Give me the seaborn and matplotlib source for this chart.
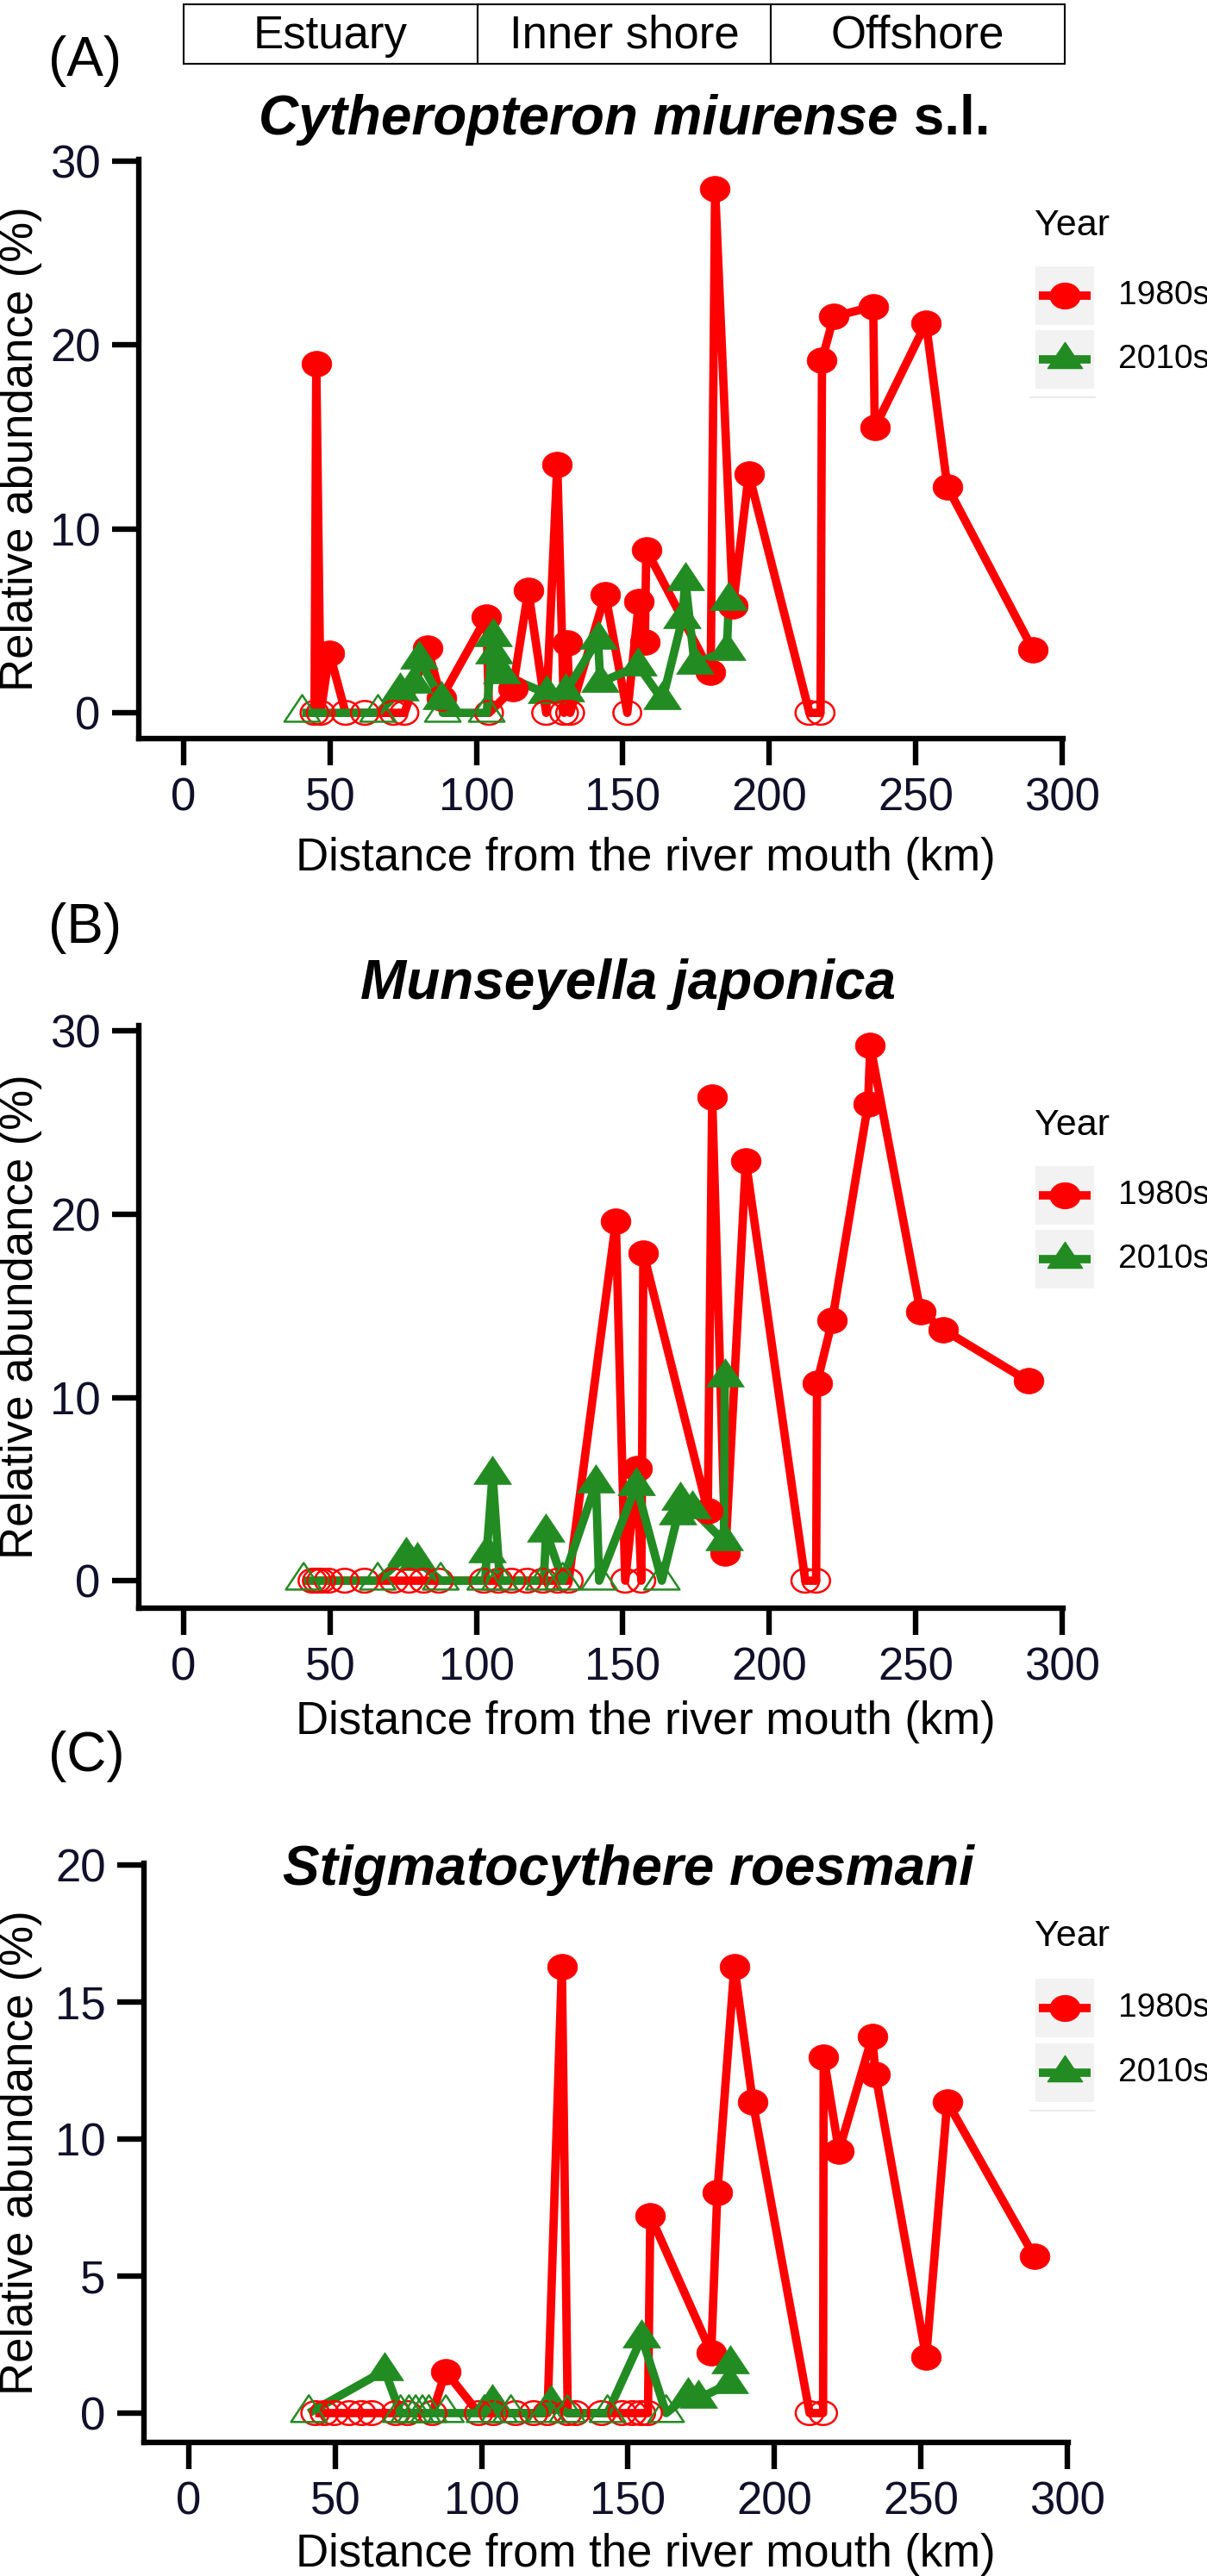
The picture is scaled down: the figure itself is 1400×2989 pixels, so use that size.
import numpy as np
import pandas as pd
import matplotlib
matplotlib.use("Agg")
import matplotlib.pyplot as plt
import seaborn as sns
from matplotlib.patches import Rectangle
from matplotlib.lines import Line2D
from matplotlib.path import Path

# ---------------- data ----------------
xticks_km = [0, 50, 100, 150, 200, 250, 300]
zones = ["Estuary", "Inner shore", "Offshore"]
zone_edges_km = [0, 100, 200, 300]
species = ["Cytheropteron miurense", "Munseyella japonica", "Stigmatocythere roesmani"]
panel_tags = ["(A)", "(B)", "(C)"]
years = ["1980s", "2010s"]

# Panel A: Cytheropteron miurense s.l.
A80_x = [44.7, 45.3, 46.8, 49.8, 55.3, 61.9, 71.7, 75.4, 83.3, 88.0, 103.4, 104.3, 112.4, 117.7,
         123.8, 127.6, 129.9, 131.0, 132.0, 144.0, 151.5, 155.5, 157.5, 158.0, 180.0, 181.5,
         187.6, 193.0, 213.7, 217.5, 218.0, 222.0, 235.5, 236.0, 253.5, 260.8, 290.0]
A80_y = [0, 19.0, 0, 3.26, 0, 0, 0, 0, 3.5, 0.8, 5.2, 0, 1.3, 6.65,
         0, 13.5, 0, 3.8, 0, 6.45, 0, 6.05, 3.83, 8.87, 2.2, 28.5,
         5.8, 13.0, 0, 0, 19.2, 21.55, 22.1, 15.5, 21.2, 12.3, 3.45]
A10_x = [40.5, 66.4, 74.0, 78.5, 80.5, 88.0, 88.5, 103.5, 105.6, 106.0, 108.5, 124.0, 130.5,
         141.5, 142.3, 155.3, 163.5, 170.3, 171.3, 174.5, 185.5, 186.2]
A10_y = [0, 0, 1.2, 1.6, 2.9, 0.7, 0, 0, 4.15, 3.2, 2.1, 1.05, 1.15,
         4.0, 1.65, 2.55, 0.7, 5.1, 7.2, 2.65, 3.4, 6.1]

# Panel B: Munseyella japonica
B80_x = [44.0, 45.5, 47.0, 49.5, 55.0, 61.8, 71.8, 77.0, 82.0, 87.2, 102.5, 107.5, 112.0, 117.3,
         122.7, 127.8, 131.5, 147.6, 150.8, 154.8, 156.3, 157.0, 179.0, 180.5, 185.0, 192.0,
         212.3, 216.0, 216.3, 221.5, 233.7, 234.5, 251.6, 259.5, 288.4]
B80_y = [0, 0, 0, 0, 0, 0, 0, 0, 0, 0, 0, 0, 0, 0,
         0, 0, 0, 19.6, 0, 6.1, 0, 17.9, 3.8, 26.4, 1.5, 22.9,
         0, 0, 10.8, 14.2, 26.0, 29.2, 14.7, 13.7, 10.9]
B10_x = [41.0, 66.3, 76.0, 79.9, 87.8, 103.0, 103.5, 105.5, 108.0, 123.0, 123.8, 129.5, 140.8,
         141.9, 154.6, 163.3, 168.8, 169.5, 173.7, 184.5, 184.8]
B10_y = [0, 0, 1.35, 1.1, 0, 0, 1.5, 5.8, 0, 0, 2.65, 0, 5.3,
         0, 5.2, 0, 3.6, 4.4, 3.9, 2.15, 11.1]

# Panel C: Stigmatocythere roesmani
C80_x = [43.2, 46.3, 49.7, 54.8, 59.0, 62.5, 70.7, 74.7, 83.2, 87.7, 99.0, 104.0, 111.6, 117.8,
         122.5, 127.4, 129.4, 132.1, 141.0, 148.0, 151.5, 154.5, 156.8, 157.6, 178.4, 180.5,
         186.3, 192.6, 212.0, 216.6, 216.8, 222.0, 233.4, 234.5, 251.8, 259.0, 288.7]
C80_y = [0, 0, 0, 0, 0, 0, 0, 0, 0, 1.52, 0, 0, 0, 0,
         0, 16.3, 0, 0, 0, 0, 0, 0, 0, 7.2, 2.2, 8.05,
         16.3, 11.35, 0, 0, 13.0, 9.56, 13.75, 12.35, 2.03, 11.35, 5.72]
C10_x = [41.0, 66.9, 72.3, 75.2, 77.5, 79.8, 82.0, 87.8, 101.0, 103.5, 106.0, 110.0, 122.0,
         123.8, 129.3, 143.0, 154.7, 163.0, 170.5, 173.9, 184.6, 184.9]
C10_y = [0, 1.55, 0, 0, 0, 0, 0, 0, 0, 0.38, 0, 0, 0,
         0.36, 0, 0, 2.75, 0, 0.63, 0.52, 1.08, 1.8]

# ---------------- style ----------------
sns.set_theme(style="white")
plt.rcParams['font.family'] = ['Liberation Sans', 'DejaVu Sans']

W, H = 1400, 2989
RED = '#FF0000'
GREEN = '#228B22'
TICKCOL = '#10102a'

# slightly wide ellipse (35 x 30 px) and wide triangle (44 x 33 px), as in the source
_t = np.linspace(0, 2 * np.pi, 61)
ELL = Path(np.column_stack([np.cos(_t), 0.857 * np.sin(_t)]), closed=True)
TRI = Path([(0, 22), (-22, -11), (22, -11), (0, 22)],
           [Path.MOVETO, Path.LINETO, Path.LINETO, Path.CLOSEPOLY])
CIRC_MS = 25.0     # points (width)
TRI_MS = 31.5      # points (width)
LW = 7.0


def fx(px):
    return px / W


def fy(py):
    return 1 - py / H


fig = plt.figure(figsize=(W / 100, H / 100), dpi=100)
fig.patch.set_facecolor('white')

panels = [
    dict(l=161, r=1233, t=185, b=857, ylim=(-1.4, 30.1), yticks=[0, 10, 20, 30],
         d80=(A80_x, A80_y), d10=(A10_x, A10_y)),
    dict(l=161, r=1233, t=1190, b=1866, ylim=(-1.5, 30.3), yticks=[0, 10, 20, 30],
         d80=(B80_x, B80_y), d10=(B10_x, B10_y)),
    dict(l=167, r=1239, t=2162, b=2834, ylim=(-1.07, 20.06), yticks=[0, 5, 10, 15, 20],
         d80=(C80_x, C80_y), d10=(C10_x, C10_y)),
]

axes = []
for p in panels:
    ax = fig.add_axes([fx(p['l']), fy(p['b']), (p['r'] - p['l']) / W, (p['b'] - p['t']) / H])
    ax.patch.set_alpha(0)
    axes.append(ax)

    series = [(p['d80'], RED, ELL, CIRC_MS), (p['d10'], GREEN, TRI, TRI_MS)]
    for (xs, ys), col, mk, ms in series:
        df = pd.DataFrame({'km': xs, 'ab': ys})
        sns.lineplot(data=df, x='km', y='ab', ax=ax, color=col, linewidth=LW,
                     estimator=None, sort=False, solid_joinstyle='round',
                     solid_capstyle='butt', zorder=2)
    for (xs, ys), col, mk, ms in series:
        df = pd.DataFrame({'km': xs, 'ab': ys})
        pos = df[df['ab'] > 0]
        sns.scatterplot(data=pos, x='km', y='ab', ax=ax, marker=mk, s=ms ** 2,
                        color=col, edgecolor=col, linewidth=0.5, zorder=3, clip_on=False)
    for (xs, ys), col, mk, ms in series:
        df = pd.DataFrame({'km': xs, 'ab': ys})
        zero = df[df['ab'] == 0]
        sns.scatterplot(data=zero, x='km', y='ab', ax=ax, marker=mk, s=(ms - 1.8) ** 2,
                        color=col, facecolor='none', edgecolor=col, linewidth=1.8,
                        zorder=4, clip_on=False)

    ax.set_xlim(-15.3, 300.3)
    ax.set_ylim(*p['ylim'])
    ax.set_xticks(xticks_km)
    ax.set_yticks(p['yticks'])
    ax.set_xticklabels([str(v) for v in xticks_km])
    ax.set_yticklabels([str(v) for v in p['yticks']])
    ax.set_xlabel('')
    ax.set_ylabel('')
    for s in ['top', 'right']:
        ax.spines[s].set_visible(False)
    for s in ['left', 'bottom']:
        ax.spines[s].set_visible(True)
        ax.spines[s].set_linewidth(4.6)
        ax.spines[s].set_color('black')
        ax.spines[s].set_capstyle('projecting')
    ax.tick_params(axis='both', which='major', direction='out', length=22, width=4.6,
                   color='black', labelsize=38, labelcolor=TICKCOL, pad=10,
                   bottom=True, left=True)
    ax.grid(False)

# ---------------- texts ----------------
TITLE_KW = dict(fontsize=46, fontweight='bold', fontstyle='italic', color='black')

tA = fig.text(fx(300), fy(156), species[0], ha='left', va='baseline', **TITLE_KW)
plt.annotate(" s.l.", xy=(1, 0), xycoords=tA, ha='left', va='bottom',
             fontsize=46, fontweight='bold', color='black', annotation_clip=False)
fig.text(fx(729), fy(1159), species[1], ha='center', va='baseline', **TITLE_KW)
fig.text(fx(729), fy(2187), species[2], ha='center', va='baseline', **TITLE_KW)

for tag, yc in zip(panel_tags, [71, 1077, 2038]):
    fig.text(fx(56), fy(yc), tag, fontsize=46, ha='left', va='center', color='black')

for yb in [1010, 2012, 2978]:
    fig.text(fx(749), fy(yb), "Distance from the river mouth (km)", fontsize=38,
             ha='center', va='baseline', color='black')

for p in panels:
    fig.text(fx(24), fy((p['t'] + p['b']) / 2), "Relative abundance (%)", fontsize=38,
             rotation=90, ha='center', va='center', color='black')

for i, name in enumerate(zones):
    x0 = 213 + zone_edges_km[i] * (1235 - 213) / 300
    x1 = 213 + zone_edges_km[i + 1] * (1235 - 213) / 300
    fig.add_artist(Rectangle((fx(x0), fy(74)), (x1 - x0) / W, (74 - 5) / H,
                             transform=fig.transFigure, facecolor='white',
                             edgecolor='black', linewidth=1.5))
    fig.text(fx((x0 + x1) / 2), fy(56), name, fontsize=38, ha='center',
             va='baseline', color='black')


# ---------------- legends ----------------
def draw_legend(title_y, key1_top, key2_top, faint_y=None):
    fig.text(fx(1200), fy(title_y), "Year", fontsize=31, ha='left', va='center',
             color='black')
    for top, col, mk, ms, lab in [(key1_top, RED, ELL, CIRC_MS, years[0]),
                                  (key2_top, GREEN, TRI, TRI_MS * 0.92, years[1])]:
        fig.add_artist(Rectangle((fx(1201), fy(top + 68)), 68 / W, 68 / H,
                                 transform=fig.transFigure, facecolor='#F2F2F2',
                                 edgecolor='none'))
        cy = top + 34
        fig.add_artist(Line2D([fx(1205), fx(1265)], [fy(cy), fy(cy)],
                              transform=fig.transFigure, color=col, lw=LW,
                              solid_capstyle='butt'))
        fig.add_artist(Line2D([fx(1235)], [fy(cy)], transform=fig.transFigure,
                              marker=mk, markersize=ms, color=col,
                              markeredgecolor=col, linestyle='none'))
        fig.text(fx(1297), fy(cy), lab, fontsize=28, ha='left', va='center',
                 color='black')
    if faint_y is not None:
        fig.add_artist(Line2D([fx(1195), fx(1270)], [fy(faint_y), fy(faint_y)],
                              transform=fig.transFigure, color='#EBEBEB', lw=1.5))


draw_legend(262, 309, 383, faint_y=461)
draw_legend(1306, 1353, 1427)
draw_legend(2247, 2296, 2371, faint_y=2449)

fig.savefig("out.png", dpi=100, facecolor='white')
